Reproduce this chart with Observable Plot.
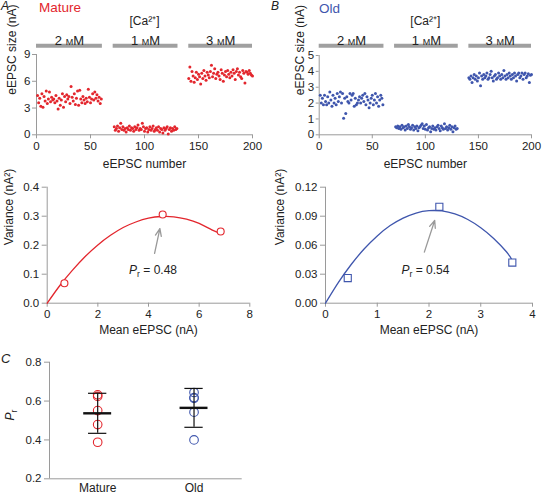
<!DOCTYPE html>
<html><head><meta charset="utf-8">
<script src="https://cdn.jsdelivr.net/npm/d3@7"></script>
<script src="https://cdn.jsdelivr.net/npm/@observablehq/plot@0.6"></script>
<style>
body{margin:0;background:#fff;}
#fig{position:relative;width:543px;height:496px;font-family:"Liberation Sans",Arial,sans-serif;overflow:hidden;background:#fff}
#fig svg{position:absolute;overflow:visible}
.lab{position:absolute;white-space:nowrap;line-height:1}
</style></head><body><div id="fig"></div>
<script>
// ---------- data ----------
const conditions = ["2 mM", "1 mM", "3 mM"];
const condStart = [0, 71, 141];
const condEnd = [61, 131, 200];
const segFirstTrial = [1, 72, 141];

const mature2 = [4.4,3.6,4.1,3.2,4.6,3.1,4.3,3.8,4.9,3.5,4.0,4.8,3.7,4.2,3.9,4.0,3.6,4.4,3.8,2.9,4.1,3.3,3.9,4.6,3.1,4.3,3.7,4.5,4.0,4.3,3.5,5.4,4.2,3.8,4.6,3.4,4.1,4.9,3.3,5.0,4.0,3.6,4.3,3.9,3.5,4.1,3.7,5.1,4.2,3.6,4.0,4.6,3.9,4.8,4.1,4.5,3.8,4.2,3.5,4.0];
const mature1 = [0.9,0.5,0.7,1.0,0.4,0.8,1.3,0.6,0.9,0.5,0.7,0.3,0.8,0.6,1.0,0.5,0.8,0.7,0.4,0.9,0.6,0.8,1.1,0.5,0.7,0.6,1.3,0.9,0.4,0.7,0.8,0.3,0.6,0.9,0.5,0.7,1.0,0.4,0.6,0.8,0.5,0.9,0.3,0.7,0.6,0.2,0.8,0.5,0.7,0.9,0.1,0.6,0.8,0.4,0.7,0.5,0.9,0.6,0.7];
const mature3 = [6.3,7.6,6.0,7.1,6.6,5.9,6.4,7.0,6.2,6.8,6.5,5.7,6.9,6.3,7.2,6.6,6.1,7.0,6.7,6.4,7.1,7.8,6.5,6.9,7.4,6.3,6.8,7.0,6.6,6.2,7.3,6.9,6.0,6.7,7.1,6.5,7.2,6.8,6.4,7.0,6.6,7.3,6.9,6.2,7.1,7.4,6.7,7.0,6.5,6.3,7.2,6.9,5.8,7.1,7.0,6.8,7.2,6.9,6.7,6.6];

const old2 = [2.5,2.0,2.3,1.9,2.5,2.1,1.9,2.4,2.0,2.7,2.2,1.8,2.5,2.0,2.3,1.9,2.6,2.1,2.4,2.7,2.0,2.6,1.05,2.3,1.35,2.4,2.1,2.0,2.6,2.2,2.5,2.6,1.8,2.3,1.9,2.0,2.2,2.4,2.0,2.3,2.5,2.1,2.6,1.9,2.4,2.2,1.7,2.0,2.3,2.5,1.9,2.2,2.6,2.0,2.4,1.8,2.2,2.5,2.3,1.9];
const old1 = [0.5,0.45,0.55,0.4,0.5,0.35,0.6,0.45,0.5,0.3,0.55,0.4,0.65,0.5,0.35,0.45,0.6,0.3,0.5,0.4,0.55,0.25,0.45,0.5,0.6,0.7,0.4,0.55,0.35,0.65,0.3,0.45,0.5,0.2,0.4,0.55,0.35,0.45,0.3,0.5,0.6,0.4,0.25,0.55,0.45,0.35,0.7,0.4,0.5,0.3,0.45,0.6,0.35,0.5,0.2,0.45,0.55,0.35,0.4];
const old3 = [3.6,3.5,3.7,3.3,3.6,3.8,3.5,3.7,3.4,3.6,3.9,3.1,3.7,3.5,3.8,3.6,3.7,3.9,3.5,3.6,3.8,4.0,3.6,3.4,3.7,3.8,3.5,3.6,3.9,3.7,3.5,3.8,3.6,4.05,3.7,3.5,3.8,3.6,3.9,3.7,3.5,3.8,3.6,3.9,3.7,3.4,3.8,3.9,3.6,3.7,3.9,3.5,3.8,3.9,3.6,3.7,3.85,3.3,3.75,3.8];

// variance–mean
const matureMean = [0.68, 4.56, 6.85];
const matureVar = [0.069, 0.306, 0.247];
const matureFitX = [0,0.5,1,1.5,2,2.5,3,3.5,4,4.5,5,5.5,6,6.5,6.85];
const matureFitY = [0,0.061,0.114,0.161,0.201,0.234,0.261,0.280,0.293,0.299,0.298,0.290,0.275,0.253,0.240];
const maturePr = "Pr = 0.48";

const oldMean = [0.43, 2.20, 3.61];
const oldVar = [0.026, 0.0997, 0.042];
const oldFitX = [0,0.25,0.5,0.75,1,1.25,1.5,1.75,2,2.25,2.5,2.75,3,3.25,3.5,3.6];
const oldFitY = [0,0.0215,0.0403,0.0563,0.0696,0.0803,0.088,0.0933,0.0957,0.0954,0.0923,0.0866,0.0781,0.067,0.053,0.045];
const oldPr = "Pr = 0.54";

// panel C
const groups = ["Mature", "Old"];
const prMature = [0.632, 0.624, 0.551, 0.479, 0.388];
const prOld = [0.644, 0.618, 0.614, 0.543, 0.400];
const prMean = [0.537, 0.565];
const prSD = [0.103, 0.100];

// ---------- build ----------
const RED = "#e3262d", BLUE = "#3f56ad", AX = "#9a9a9a", TXT = "#222";
const fig = document.getElementById("fig");
const baseStyle = {fontFamily: '"Liberation Sans", Arial, sans-serif', fontSize: "11.5px", background: "transparent", color: TXT};
const fmtInt = d3.format("d");

function seg(arrs){
  const out = [];
  arrs.forEach((a, s) => a.forEach((v, i) => out.push({trial: segFirstTrial[s] + i, size: v})));
  return out;
}
const condData = conditions.map((c, i) => ({c, x1: condStart[i], x2: condEnd[i], xm: (condStart[i] + condEnd[i]) / 2}));

function place(svg, left, top){
  svg.style.left = left + "px"; svg.style.top = top + "px";
  const ns = "http://www.w3.org/2000/svg";
  svg.querySelectorAll("text").forEach(t => {
    const s = t.textContent;
    if (s.startsWith("Pr")) {
      const rest = s.slice(2);
      t.textContent = "";
      const a = document.createElementNS(ns, "tspan"); a.setAttribute("font-style", "italic"); a.textContent = "P";
      const b = document.createElementNS(ns, "tspan"); b.setAttribute("dy", "3"); b.setAttribute("font-size", "0.72em"); b.textContent = "r";
      t.append(a, b);
      if (rest) { const c = document.createElementNS(ns, "tspan"); c.setAttribute("dy", "-3"); c.textContent = rest; t.append(c); }
    }
  });
  fig.appendChild(svg);
}

function scatter(data, color, ymax, yticks, o){
  return Plot.plot({
    width: o.width, height: 175,
    marginLeft: o.ml, marginRight: o.mr, marginTop: o.mt, marginBottom: 40.7,
    style: baseStyle,
    x: {domain: [0, 200]}, y: {domain: [0, ymax]},
    marks: [
      Plot.ruleX([0], {stroke: AX}),
      Plot.ruleY([0], {stroke: AX}),
      Plot.axisX({ticks: [0, 50, 100, 150, 200], tickFormat: fmtInt, tickSize: 4, tickPadding: 3, stroke: AX, fill: TXT, label: null}),
      Plot.axisY({ticks: yticks, tickFormat: fmtInt, tickSize: o.ts, tickPadding: o.tp, stroke: AX, fill: TXT, label: null}),
      Plot.dot(data, {x: "trial", y: "size", r: 1.5, fill: color, stroke: null}),
      Plot.ruleY(condData, {x1: "x1", x2: "x2", y: () => ymax, dy: o.barDy, stroke: "#a0a0a0", strokeWidth: 4}),
      Plot.text(condData, {x: "xm", text: "c", frameAnchor: "top", dy: o.labDy, fontSize: 13, fontVariant: "small-caps", fill: TXT}),
      Plot.text(["[Ca²⁺]"], {frameAnchor: "top", dy: o.caDy, fontSize: 12, fill: TXT}),
      Plot.text(["eEPSC size (nA)"], {frameAnchor: "left", dx: o.yTitleDx, rotate: -90, fontSize: 12, fill: TXT}),
      Plot.text(["eEPSC number"], {frameAnchor: "bottom", dy: 33, fontSize: 12, fill: TXT})
    ]
  });
}

// A top
place(scatter(seg([mature2, mature1, mature3]), RED, 9, [0, 3, 6, 9],
  {width: 270, ml: 36, mr: 18, mt: 54, ts: 4, tp: 2, barDy: -8.7, labDy: -19, caDy: -38, yTitleDx: -24}), 0, 0);
// B top
place(scatter(seg([old2, old1, old3]), BLUE, 5, [0, 1, 2, 3, 4, 5],
  {width: 273, ml: 48.7, mr: 12, mt: 55, ts: 3, tp: 2, barDy: -9.7, labDy: -19.5, caDy: -39, yTitleDx: -19}), 270, 0);

function varPlot(mean, vr, fx, fy, color, symbol, xmax, xticks, ymax, yticks, yfmt, arrow, pr, o){
  const pts = mean.map((m, i) => ({m, v: vr[i]}));
  const fit = fx.map((x, i) => ({x, y: fy[i]}));
  return Plot.plot({
    width: o.width, height: 175,
    marginLeft: o.ml, marginRight: o.mr, marginTop: 11.7, marginBottom: 47.3,
    style: baseStyle,
    x: {domain: [0, xmax]}, y: {domain: [0, ymax]},
    marks: [
      Plot.ruleX([0], {stroke: AX}),
      Plot.ruleY([0], {stroke: AX}),
      Plot.axisX({ticks: xticks, tickFormat: fmtInt, tickSize: 4, tickPadding: 3, stroke: AX, fill: TXT, label: null}),
      Plot.axisY({ticks: yticks, tickSize: 5, tickPadding: 3, tickFormat: yfmt, stroke: AX, fill: TXT, label: null}),
      Plot.line(fit, {x: "x", y: "y", curve: "natural", stroke: color, strokeWidth: 1.3}),
      Plot.dot(pts, {x: "m", y: "v", symbol, r: o.r, stroke: color, fill: "white", strokeWidth: 1.1}),
      Plot.arrow([arrow], {x1: "x1", y1: "y1", x2: "x2", y2: "y2", stroke: "#999", strokeWidth: 1.3, headLength: 9, headAngle: 45}),
      Plot.text([pr], {x: () => arrow.tx, y: () => arrow.ty, fontSize: 12, fill: TXT}),
      Plot.text(["Variance (nA²)"], {frameAnchor: "left", dx: o.yTitleDx, rotate: -90, fontSize: 12, fill: TXT}),
      Plot.text(["Mean eEPSC (nA)"], {frameAnchor: "bottom", dy: 30.6, fontSize: 12, fill: TXT})
    ]
  });
}
place(varPlot(matureMean, matureVar, matureFitX, matureFitY, RED, "circle", 8, [0, 2, 4, 6, 8], 0.4, [0, 0.1, 0.2, 0.3, 0.4], d3.format(".1f"),
  {x1: 4.24, y1: 0.172, x2: 4.45, y2: 0.257, tx: 4.18, ty: 0.114}, maturePr,
  {width: 270, ml: 46.7, mr: 20.7, r: 3.5, yTitleDx: -38.5}), 0, 175);
place(varPlot(oldMean, oldVar, oldFitX, oldFitY, BLUE, "square", 4, [0, 1, 2, 3, 4], 0.12, [0, 0.03, 0.06, 0.09, 0.12], d3.format(".2f"),
  {x1: 1.91, y1: 0.0528, x2: 2.11, y2: 0.0856, tx: 1.93, ty: 0.034}, oldPr,
  {width: 273, ml: 55, mr: 11, r: 4, yTitleDx: -45}), 270, 175);

// C
const cPts = [...prMature.map(v => ({g: 1, v, grp: "Mature"})), ...prOld.map(v => ({g: 2, v, grp: "Old"}))];
const cStats = groups.map((g, i) => ({g: i + 1, m: prMean[i], lo: prMean[i] - prSD[i], hi: prMean[i] + prSD[i]}));
const cPlot = Plot.plot({
  width: 270, height: 146,
  marginLeft: 49, marginRight: 28.3, marginTop: 11.7, marginBottom: 17.7,
  style: baseStyle,
  x: {domain: [0.5, 2.5]}, y: {domain: [0.2, 0.8]},
  color: {domain: groups, range: [RED, BLUE]},
  marks: [
    Plot.ruleX([0.5], {stroke: AX}),
    Plot.ruleY([0.2], {stroke: AX}),
    Plot.axisX({ticks: [1, 2], tickFormat: d => groups[d - 1], tickSize: 0, tickPadding: 5, stroke: AX, fill: TXT, label: null, fontSize: 12}),
    Plot.axisY({ticks: [0.2, 0.4, 0.6, 0.8], tickFormat: d3.format(".1f"), tickSize: 5, tickPadding: 3, stroke: AX, fill: TXT, label: null}),
    Plot.dot(cPts, {x: "g", y: "v", r: 4.3, stroke: "grp", fill: "none", strokeWidth: 1.1}),
    Plot.ruleX(cStats, {x: "g", y1: "lo", y2: "hi", stroke: "#111", strokeWidth: 1.2}),
    Plot.ruleY(cStats, {y: "lo", x1: d => d.g - 0.095, x2: d => d.g + 0.095, stroke: "#111", strokeWidth: 1.2}),
    Plot.ruleY(cStats, {y: "hi", x1: d => d.g - 0.095, x2: d => d.g + 0.095, stroke: "#111", strokeWidth: 1.2}),
    Plot.ruleY(cStats, {y: "m", x1: d => d.g - 0.145, x2: d => d.g + 0.145, stroke: "#111", strokeWidth: 2.4}),
    Plot.text(["Pr"], {frameAnchor: "left", dx: -39, rotate: -90, fontSize: 12, fill: TXT})
  ]
});
place(cPlot, 0, 350);

// panel letters and group names
function lab(txt, left, top, css){
  const d = document.createElement("div"); d.className = "lab"; d.textContent = txt;
  d.style.left = left + "px"; d.style.top = top + "px"; Object.assign(d.style, css); fig.appendChild(d);
}
lab("A", 1, 0, {fontSize: "12px", fontStyle: "italic", color: TXT});
lab("Mature", 39, 1, {fontSize: "13.5px", color: RED});
lab("B", 271, 0, {fontSize: "12px", fontStyle: "italic", color: TXT});
lab("Old", 319, 2, {fontSize: "13.5px", color: BLUE});
lab("C", 1, 352, {fontSize: "13px", fontStyle: "italic", color: TXT});
</script></body></html>
